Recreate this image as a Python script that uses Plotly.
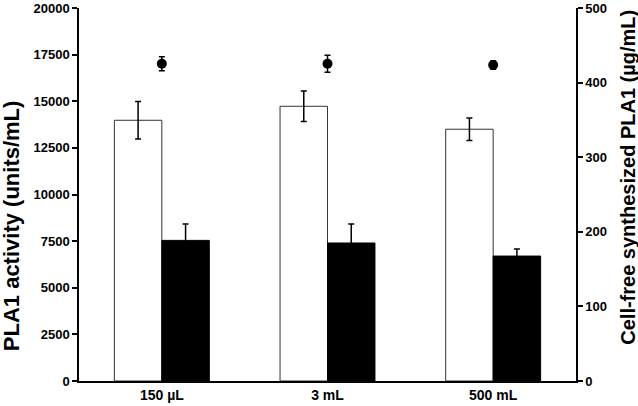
import plotly.graph_objects as go

categories = ["150 µL", "3 mL", "500 mL"]
activity_white = [13980, 14730, 13500]
activity_white_err = [1000, 820, 600]
activity_black = [7540, 7400, 6700]
activity_black_err = [880, 1020, 380]
synth = [425.3, 425.3, 423.5]
synth_err = [9.5, 11.5, 5.5]

left_ticks = [0, 2500, 5000, 7500, 10000, 12500, 15000, 17500, 20000]
right_ticks = [0, 100, 200, 300, 400, 500]
left_title = "PLA1 activity (units/mL)"
right_title = "Cell-free synthesized PLA1 (µg/mL)"

FONT = "Liberation Sans"

fig = go.Figure()
fig.add_trace(go.Bar(
    x=categories, y=activity_white,
    marker=dict(color="white", line=dict(color="#333333", width=1)),
    error_y=dict(type="data", array=activity_white_err, color="black", thickness=1.5, width=3),
    showlegend=False,
))
fig.add_trace(go.Bar(
    x=categories, y=activity_black,
    marker=dict(color="black", line=dict(color="black", width=1)),
    error_y=dict(type="data", array=activity_black_err, color="black", thickness=1.5, width=3),
    showlegend=False,
))
fig.add_trace(go.Scatter(
    x=categories, y=synth, yaxis="y2", mode="markers",
    marker=dict(color="black", size=10, symbol="circle"),
    error_y=dict(type="data", array=synth_err, color="black", thickness=1.5, width=3),
    showlegend=False,
))

fig.update_layout(
    width=638, height=406,
    margin=dict(l=79, r=62, t=8, b=25),
    paper_bgcolor="white", plot_bgcolor="white",
    barmode="group", bargap=0.427, bargroupgap=0,
    font=dict(family=FONT, color="black"),
    xaxis=dict(
        automargin=False,
        showline=True, linecolor="black", linewidth=1.5,
        ticks="", showgrid=False,
        tickfont=dict(family=FONT, size=14, color="black", weight="bold"),
    ),
    yaxis=dict(
        automargin=False,
        range=[0, 20000], tickvals=left_ticks, ticktext=[str(v) for v in left_ticks],
        showline=True, linecolor="black", linewidth=1.5,
        ticks="outside", ticklen=5, tickwidth=1.5, tickcolor="black",
        showgrid=False, zeroline=False,
        tickfont=dict(family=FONT, size=13, color="black", weight="bold"),
    ),
    yaxis2=dict(
        automargin=False,
        range=[0, 500], tickvals=right_ticks, overlaying="y", side="right",
        showline=True, linecolor="black", linewidth=1.5,
        ticks="outside", ticklen=5, tickwidth=1.5, tickcolor="black",
        showgrid=False, zeroline=False,
        tickfont=dict(family=FONT, size=13, color="black", weight="bold"),
    ),
    annotations=[
        dict(text=left_title, textangle=-90, xref="paper", yref="paper",
             x=0, y=0.415, xanchor="center", yanchor="middle", xshift=-68,
             showarrow=False,
             font=dict(family=FONT, size=22, color="black", weight="bold")),
        dict(text=right_title, textangle=-90, xref="paper", yref="paper",
             x=1, y=0.545, xanchor="center", yanchor="middle", xshift=52,
             showarrow=False,
             font=dict(family=FONT, size=20, color="black", weight="bold")),
    ],
)

fig.write_html("out.html", config={"displayModeBar": False},
               post_script="document.body.style.margin='0';")
